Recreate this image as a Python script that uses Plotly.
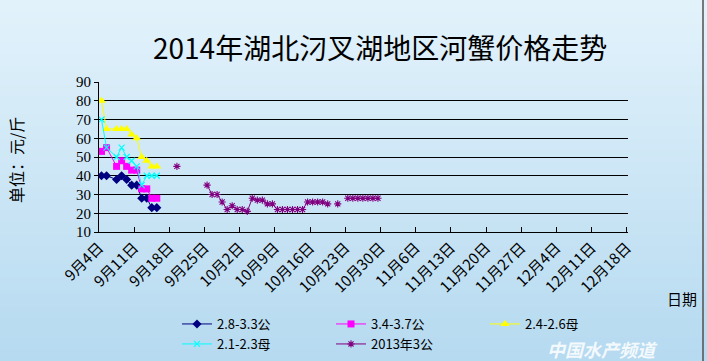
import plotly.graph_objects as go
import datetime as dt

# ---------------- data ----------------
dates_2014 = ["2014-09-04", "2014-09-05", "2014-09-07", "2014-09-08", "2014-09-09",
              "2014-09-10", "2014-09-11", "2014-09-12", "2014-09-13", "2014-09-14", "2014-09-15"]
male_28_33 = [40, 40, 38, 40, 38, 35, 35, 28, 28, 23, 23]
male_34_37 = [53, 55, 45, 48, 45, 43, 43, 33, 33, 28, 28]
female_24_26 = [80, 65, 65, 65, 65, 62, 60, 50, 48, 45, 45]
female_21_23 = [70, 55, 50, 55, 50, 48, 45, 35, 40, 40, 40]

dates_2013 = ["2014-09-19", "2014-09-20",
              "2014-09-25", "2014-09-26", "2014-09-27", "2014-09-28", "2014-09-29", "2014-09-30",
              "2014-10-01", "2014-10-02", "2014-10-03", "2014-10-04", "2014-10-05", "2014-10-06",
              "2014-10-07", "2014-10-08", "2014-10-09", "2014-10-10", "2014-10-11", "2014-10-12",
              "2014-10-13", "2014-10-14", "2014-10-15", "2014-10-16", "2014-10-17", "2014-10-18",
              "2014-10-19", "2014-10-20", "2014-10-21", "2014-10-22", "2014-10-23", "2014-10-24",
              "2014-10-25", "2014-10-26", "2014-10-27", "2014-10-28", "2014-10-29"]
male_3_2013 = [45, None,
               35, 30, 30, 26, 22, 24,
               22, 22, 21, 28, 27, 27,
               25, 25, 22, 22, 22, 22,
               22, 22, 26, 26, 26, 26,
               25, None, 25, None, 28, 28,
               28, 28, 28, 28, 28]

tick_dates = ["2014-09-04", "2014-09-11", "2014-09-18", "2014-09-25", "2014-10-02", "2014-10-09",
              "2014-10-16", "2014-10-23", "2014-10-30", "2014-11-06", "2014-11-13", "2014-11-20",
              "2014-11-27", "2014-12-04", "2014-12-11", "2014-12-18"]
tick_labels = ["9月4日", "9月11日", "9月18日", "9月25日", "10月2日", "10月9日", "10月16日",
               "10月23日", "10月30日", "11月6日", "11月13日", "11月20日", "11月27日",
               "12月4日", "12月11日", "12月18日"]

names = ["2.8-3.3公", "3.4-3.7公", "2.4-2.6母", "2.1-2.3母", "2013年3公"]

# ---------------- figure ----------------
W, H = 707, 361
L, R, T, B = 99, 79, 82, 129
pw, ph = W - L - R, H - T - B


def px_x(x):
    return (x - L) / pw


def px_y(y):
    return (T + ph - y) / ph


fig = go.Figure()
fig.add_trace(go.Scatter(x=dates_2014, y=male_28_33, name=names[0], mode="lines+markers",
                         legend="legend",
                         line=dict(color="#000080", width=1),
                         marker=dict(symbol="diamond", size=7, color="#000080")))
fig.add_trace(go.Scatter(x=dates_2014, y=male_34_37, name=names[1], mode="lines+markers",
                         legend="legend",
                         line=dict(color="#FF00FF", width=1),
                         marker=dict(symbol="square", size=7, color="#FF00FF")))
fig.add_trace(go.Scatter(x=dates_2014, y=female_24_26, name=names[2], mode="lines+markers",
                         legend="legend",
                         line=dict(color="#FFFF00", width=1),
                         marker=dict(symbol="triangle-up", size=8, color="#FFFF00")))
fig.add_trace(go.Scatter(x=dates_2014, y=female_21_23, name=names[3], mode="lines+markers",
                         legend="legend2",
                         line=dict(color="#00FFFF", width=1),
                         marker=dict(symbol="x-thin-open", size=6, color="#00FFFF",
                                     line=dict(color="#00FFFF", width=1.2))))
fig.add_trace(go.Scatter(x=dates_2013, y=male_3_2013, name=names[4], mode="lines+markers",
                         legend="legend2", connectgaps=False,
                         line=dict(color="#800080", width=1),
                         marker=dict(symbol="asterisk-open", size=6, color="#800080",
                                     line=dict(color="#800080", width=1.1))))

# gradient background
top = (226, 242, 251)
bot = (182, 218, 240)
n = 60
shapes = []
for i in range(n):
    f = i / (n - 1)
    c = tuple(int(round(top[k] + (bot[k] - top[k]) * f)) for k in range(3))
    y_top_px = i * H / n
    y_bot_px = (i + 1) * H / n + 1
    shapes.append(dict(type="rect", xref="paper", yref="paper", layer="below",
                       x0=px_x(0), x1=px_x(W),
                       y0=px_y(y_bot_px), y1=px_y(y_top_px),
                       line=dict(width=0), fillcolor="rgb(%d,%d,%d)" % c))
shapes.append(dict(type="line", xref="paper", yref="paper", layer="above",
                   x0=px_x(703), x1=px_x(703), y0=px_y(H), y1=px_y(0),
                   line=dict(color="#505050", width=1.5)))

# tick positions at the start of each day (category boundary)
tickvals = [(dt.datetime.fromisoformat(d) - dt.timedelta(hours=12)).isoformat() for d in tick_dates]

legend_common = dict(orientation="h", xanchor="left", yanchor="middle",
                     entrywidth=109, entrywidthmode="pixels",
                     bgcolor="rgba(0,0,0,0)", itemwidth=30, tracegroupgap=0,
                     font=dict(family="Noto Sans CJK SC", size=13, color="#000"))

fig.update_layout(
    width=W, height=H,
    margin=dict(l=L, r=R, t=T, b=B, autoexpand=False),
    paper_bgcolor="rgb(226,242,251)",
    plot_bgcolor="rgba(0,0,0,0)",
    shapes=shapes,
    showlegend=True,
    legend=dict(x=px_x(177), y=px_y(324), **legend_common),
    legend2=dict(x=px_x(177), y=px_y(344), **legend_common),
    xaxis=dict(type="date", automargin=False,
               range=["2014-09-03 12:00", "2014-12-17 18:00"],
               tickmode="array", tickvals=tickvals, ticktext=tick_labels,
               tickangle=-45, ticks="inside", ticklen=5, tickcolor="#000",
               showgrid=False, showline=True, linecolor="#000", linewidth=1,
               tickfont=dict(family="Noto Sans CJK SC", size=15, color="#000"),
               zeroline=False),
    yaxis=dict(range=[10, 90], dtick=10, tick0=10, automargin=False,
               showgrid=True, gridcolor="#000", gridwidth=1,
               showline=True, linecolor="#000", linewidth=1,
               ticks="outside", ticklen=4, tickcolor="#000",
               tickfont=dict(family="Liberation Serif", size=15, color="#000"),
               zeroline=False),
    annotations=[
        dict(text="2014年湖北汈叉湖地区河蟹价格走势", xref="paper", yref="paper",
             x=px_x(380), y=px_y(47), xanchor="center", yanchor="middle",
             showarrow=False, font=dict(family="Noto Sans CJK SC", size=28, color="#000")),
        dict(text="单位：元/斤", xref="paper", yref="paper", textangle=-90,
             x=px_x(16), y=px_y(160), xanchor="center", yanchor="middle",
             showarrow=False, font=dict(family="Noto Sans CJK SC", size=16, color="#000")),
        dict(text="日期", xref="paper", yref="paper",
             x=px_x(682), y=px_y(298), xanchor="center", yanchor="middle",
             showarrow=False, font=dict(family="Noto Sans CJK SC", size=15, color="#000")),
        dict(text="<b><i>中国水产频道</i></b>", xref="paper", yref="paper",
             x=px_x(602), y=px_y(349), xanchor="center", yanchor="middle",
             showarrow=False, font=dict(family="Noto Sans CJK SC", size=18,
                                        color="rgba(255,255,255,0.85)")),
    ],
)

fig.write_html("out.html", config={"displayModeBar": False},
               post_script="document.body.style.margin='0';")
